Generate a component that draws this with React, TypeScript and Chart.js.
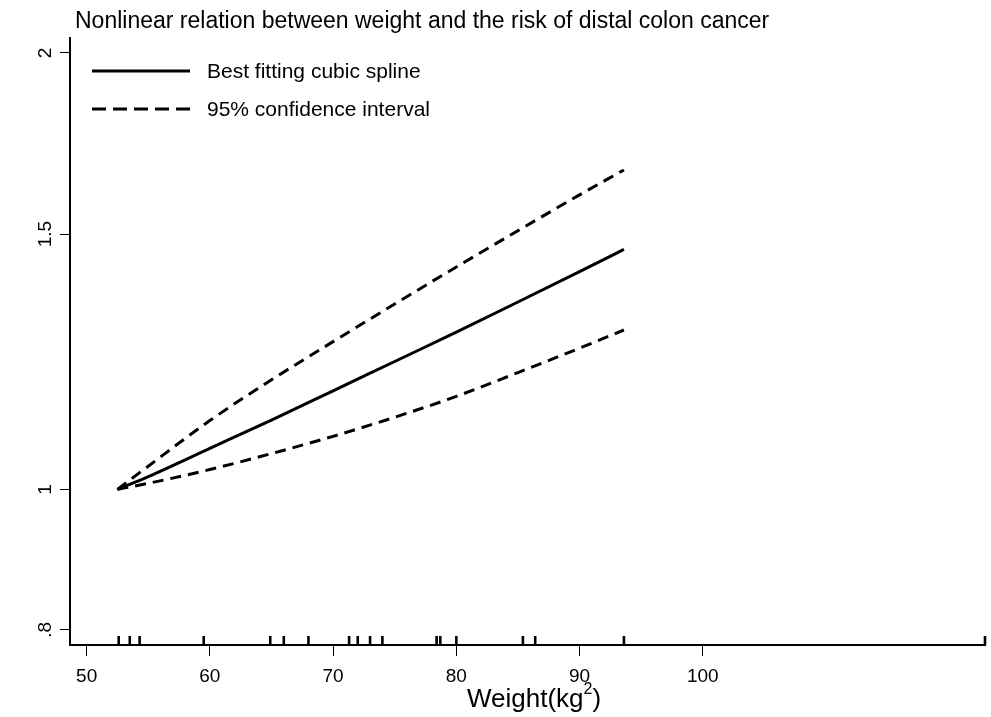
import React, { useEffect, useRef } from "react";
import { Chart, registerables } from "chart.js";

Chart.register(...registerables);

// Weight (kg) grid where the fitted curve and its bounds are evaluated
const weights = [52.5, 55, 60, 65, 70, 75, 80, 85, 90, 93.6];
// Relative risk from the best fitting cubic spline
const splineRisk = [1.0, 1.0205, 1.0673, 1.1164, 1.1694, 1.2252, 1.2835, 1.3466, 1.4133, 1.4638];
// Upper and lower 95% confidence bounds
const upperCI = [1.0, 1.0375, 1.1155, 1.19, 1.2645, 1.3423, 1.4236, 1.5081, 1.5963, 1.6608];
const lowerCI = [1.0, 1.0096, 1.032, 1.0585, 1.0879, 1.1214, 1.1592, 1.2039, 1.2514, 1.288];
// Observed weights shown as a rug along the x axis
const rugWeights = [
  52.6, 53.5, 54.3, 59.5, 64.9, 66.0, 68.0, 71.3, 72.0, 73.0, 74.0, 78.4, 78.7, 80.0,
  85.4, 86.4, 93.6, 122.9,
];
// Axis ticks
const xTickValues = [50, 60, 70, 80, 90, 100];
const yTickValues = [0.8, 1, 1.5, 2];
const yTickLabels = [".8", "1", "1.5", "2"];

const titleText = "Nonlinear relation between weight and the risk of distal colon cancer";
const legendSolid = "Best fitting cubic spline";
const legendDashed = "95% confidence interval";
const FONT = '"Liberation Sans", Arial, Helvetica, sans-serif';

const toPoints = (ys: number[]) => weights.map((x, i) => ({ x, y: ys[i] }));

const decorPlugin = {
  id: "decor",
  afterDatasetsDraw(chart: any) {
    const { ctx, chartArea, scales } = chart;
    const xs = scales.x;
    ctx.save();
    // rug of observed weights
    ctx.strokeStyle = "#000";
    ctx.lineWidth = 2.6;
    ctx.lineCap = "butt";
    for (const w of rugWeights) {
      const px = xs.getPixelForValue(w);
      ctx.beginPath();
      ctx.moveTo(px, chartArea.bottom);
      ctx.lineTo(px, chartArea.bottom - 9);
      ctx.stroke();
    }
    ctx.restore();
  },
  afterDraw(chart: any) {
    const { ctx } = chart;
    ctx.save();
    ctx.fillStyle = "#000";
    ctx.strokeStyle = "#000";

    // title
    ctx.font = `23px ${FONT}`;
    ctx.textAlign = "left";
    ctx.textBaseline = "alphabetic";
    ctx.fillText(titleText, 75, 28);

    // legend
    ctx.lineWidth = 3;
    ctx.setLineDash([]);
    ctx.beginPath();
    ctx.moveTo(92, 71);
    ctx.lineTo(190, 71);
    ctx.stroke();
    ctx.setLineDash([14, 7]);
    ctx.beginPath();
    ctx.moveTo(92, 109);
    ctx.lineTo(190, 109);
    ctx.stroke();
    ctx.setLineDash([]);
    ctx.font = `21px ${FONT}`;
    ctx.textBaseline = "middle";
    ctx.fillText(legendSolid, 207, 72);
    ctx.fillText(legendDashed, 207, 110);

    // x axis title with superscript
    ctx.textBaseline = "alphabetic";
    ctx.font = `26px ${FONT}`;
    const main = "Weight(kg";
    let x = 467;
    ctx.fillText(main, x, 707);
    x += ctx.measureText(main).width;
    ctx.font = `16px ${FONT}`;
    ctx.fillText("2", x, 694);
    x += ctx.measureText("2").width;
    ctx.font = `26px ${FONT}`;
    ctx.fillText(")", x, 707);
    ctx.restore();
  },
};

export default function App() {
  const canvasRef = useRef<HTMLCanvasElement | null>(null);

  useEffect(() => {
    if (!canvasRef.current) return;
    const chart = new Chart(canvasRef.current, {
      type: "line",
      data: {
        datasets: [
          {
            label: legendSolid,
            data: toPoints(splineRisk),
            borderColor: "#000",
            borderWidth: 3,
            pointRadius: 0,
            cubicInterpolationMode: "monotone",
            fill: false,
          },
          {
            label: legendDashed,
            data: toPoints(upperCI),
            borderColor: "#000",
            borderWidth: 3,
            borderDash: [11, 7],
            pointRadius: 0,
            cubicInterpolationMode: "monotone",
            fill: false,
          },
          {
            label: "lower",
            data: toPoints(lowerCI),
            borderColor: "#000",
            borderWidth: 3,
            borderDash: [11, 7],
            pointRadius: 0,
            cubicInterpolationMode: "monotone",
            fill: false,
          },
        ],
      },
      options: {
        animation: false,
        responsive: false,
        layout: { padding: { left: 0, right: 6, top: 38, bottom: 0 } },
        plugins: {
          legend: { display: false },
          title: { display: false },
          tooltip: { enabled: false },
        },
        scales: {
          x: {
            type: "linear",
            min: 48.65,
            max: 122.9,
            afterBuildTicks: (s: any) => {
              s.ticks = xTickValues.map((v) => ({ value: v }));
            },
            afterFit: (s: any) => {
              s.height = 72;
            },
            grid: {
              display: true,
              drawOnChartArea: false,
              drawTicks: true,
              tickLength: 11,
              color: "#000",
              lineWidth: 1,
            },
            border: { display: true, color: "#000", width: 2 },
            ticks: {
              color: "#000",
              font: { family: FONT, size: 19 },
              padding: 9,
              maxRotation: 0,
              autoSkip: false,
              callback: (v: any) => String(v),
            },
          },
          y: {
            type: "logarithmic",
            min: 0.781,
            max: 2.048,
            afterBuildTicks: (s: any) => {
              s.ticks = yTickValues.map((v) => ({ value: v }));
            },
            afterFit: (s: any) => {
              s.width = 70;
            },
            grid: {
              display: true,
              drawOnChartArea: false,
              drawTicks: true,
              tickLength: 10,
              color: "#000",
              lineWidth: 1,
            },
            border: { display: true, color: "#000", width: 2 },
            ticks: {
              color: "#000",
              font: { family: FONT, size: 19 },
              padding: 1,
              minRotation: 90,
              maxRotation: 90,
              crossAlign: "center",
              autoSkip: false,
              callback: (v: any) => {
                const i = yTickValues.findIndex((t) => Math.abs(t - Number(v)) < 1e-9);
                return i >= 0 ? yTickLabels[i] : "";
              },
            },
          },
        },
      },
      plugins: [decorPlugin],
    });
    return () => chart.destroy();
  }, []);

  return (
    <div style={{ position: "fixed", left: 0, top: 0, width: 991, height: 717, background: "#fff" }}>
      <canvas ref={canvasRef} width={991} height={717} />
    </div>
  );
}
